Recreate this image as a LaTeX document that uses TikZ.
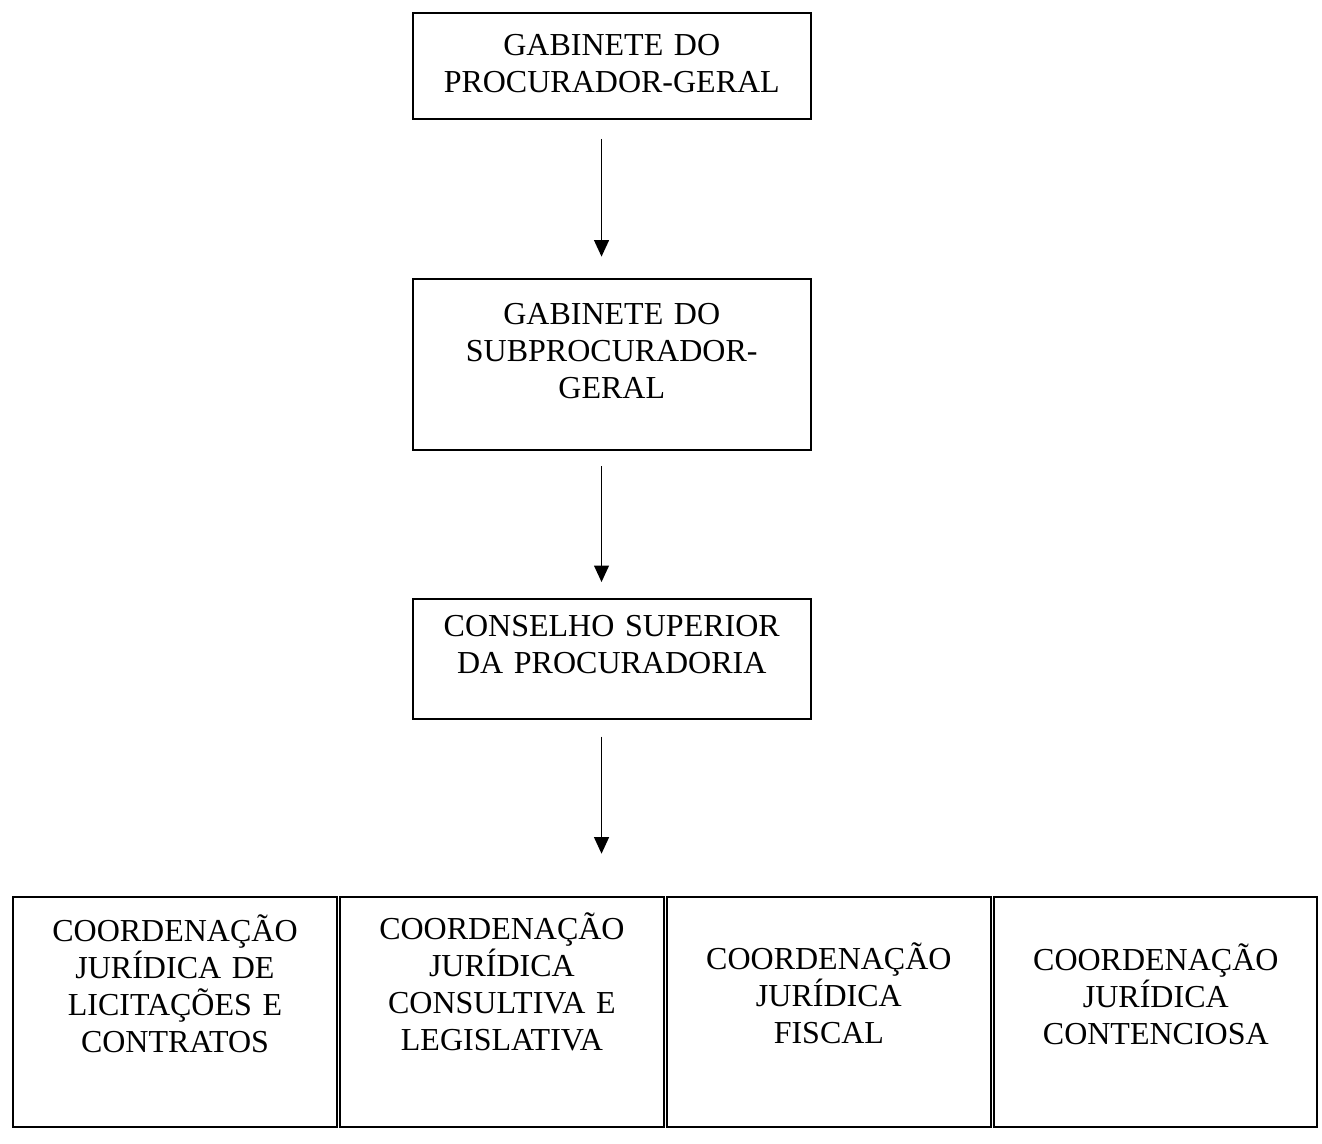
\documentclass[tikz,border=0pt]{standalone}
\usepackage{fontspec}
\setmainfont{Liberation Serif}
\usetikzlibrary{arrows.meta}
\tikzstyle{office} = [rectangle, draw = black, line width = 1pt, inner sep = 0pt, text width = 7cm, align = center, font = \fontsize{16}{18.5}\selectfont]
\tikzstyle{division} = [rectangle, draw = black, line width = 1pt, inner sep = 0pt, text width = 5.68cm, align = center, font = \fontsize{16}{18.5}\selectfont]
\tikzstyle{arrow} = [line width = 0.8pt, -{Triangle[width=0.26cm,length=0.29cm]}]

\begin{document}
\begin{tikzpicture}[node distance = 5.745cm]
\useasboundingbox (0,0) rectangle (23.23,-20.10);

\node(gabproc) [office, text height = 21.3pt, text depth = 31.7pt] at (10.75,-1.16) {GABINETE DO\\PROCURADOR-GERAL};
\node(gabsub) [office, below of = gabproc, yshift = 0.505cm, text height = 23pt, text depth = 62.5pt] {GABINETE DO\\SUBPROCURADOR-\\GERAL};
\node(conselho) [office, below of = gabsub, yshift = 0.565cm, text height = 18.5pt, text depth = 41.5pt] {CONSELHO SUPERIOR\\DA PROCURADORIA};

\node(consultiva) [division, below of = conselho, xshift = -1.93cm, yshift = -0.455cm, text height = 21.3pt, text depth = 93.7pt] {COORDENAÇÃO\\JURÍDICA\\CONSULTIVA E\\LEGISLATIVA};
\node(licitacoes) [division, left of = consultiva, text height = 22.3pt, text depth = 92.7pt] {COORDENAÇÃO\\JURÍDICA DE\\LICITAÇÕES E\\CONTRATOS};
\node(fiscal) [division, right of = consultiva, text height = 36.3pt, text depth = 78.7pt] {COORDENAÇÃO\\JURÍDICA\\FISCAL};
\node(contenciosa) [division, right of = fiscal, text height = 36.8pt, text depth = 78.2pt] {COORDENAÇÃO\\JURÍDICA\\CONTENCIOSA};

\coordinate (rowtop) at (conselho |- consultiva.north);

\draw [arrow, shorten <= 0.33cm, shorten >= 0.37cm] ([xshift=-0.18cm]gabproc.south) -- ([xshift=-0.18cm]gabsub.north);
\draw [arrow, shorten <= 0.27cm, shorten >= 0.28cm] ([xshift=-0.18cm]gabsub.south) -- ([xshift=-0.18cm]conselho.north);
\draw [arrow, shorten <= 0.29cm, shorten >= 0.74cm] ([xshift=-0.18cm]conselho.south) -- ([xshift=-0.18cm]rowtop);

\end{tikzpicture}
\end{document}
